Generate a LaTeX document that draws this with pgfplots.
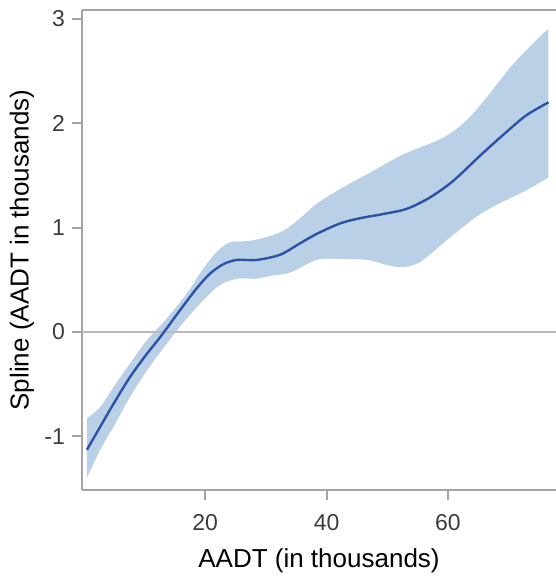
\documentclass[border=0pt]{standalone}
\usepackage{pgfplots}
\pgfplotsset{compat=1.18}
\usepgfplotslibrary{fillbetween}
\usepackage{fontspec}
\setmainfont{Liberation Sans}

\definecolor{bandblue}{RGB}{186,208,231}
\definecolor{lineblue}{RGB}{45,82,168}
\definecolor{axgray}{RGB}{165,165,165}
\definecolor{refgray}{RGB}{185,185,185}
\definecolor{ticktext}{RGB}{60,60,60}

% spline estimate and confidence band
\pgfplotstableread{
x y
0.51 -1.13
2.70 -0.91
4.89 -0.69
7.64 -0.43
10.40 -0.21
12.59 -0.05
15.88 0.21
18.63 0.42
20.82 0.56
23.02 0.65
25.22 0.69
28.52 0.69
32.36 0.74
35.65 0.85
38.40 0.94
42.24 1.04
45.54 1.09
49.37 1.13
53.23 1.18
57.07 1.29
60.91 1.45
65.30 1.69
69.70 1.92
73.00 2.08
76.56 2.20
}\meandata

\pgfplotstableread{
x y
0.51 -0.83
2.70 -0.72
4.89 -0.53
7.64 -0.30
10.40 -0.08
13.69 0.13
16.99 0.37
19.72 0.61
21.93 0.77
24.12 0.86
26.87 0.87
29.60 0.90
32.90 0.97
35.65 1.09
38.40 1.23
42.24 1.37
46.64 1.51
52.57 1.70
59.16 1.86
63.11 2.03
66.41 2.25
70.79 2.57
76.56 2.91
}\upperdata

\pgfplotstableread{
x y
0.51 -1.40
2.70 -1.13
4.89 -0.91
7.64 -0.62
10.40 -0.37
13.69 -0.11
16.99 0.13
20.28 0.34
22.47 0.45
25.22 0.51
28.52 0.51
31.00 0.54
34.00 0.57
38.40 0.69
42.24 0.70
46.64 0.69
50.00 0.64
52.50 0.62
55.42 0.67
59.82 0.88
64.60 1.10
68.06 1.22
73.00 1.36
76.56 1.48
}\lowerdata

\begin{document}
\begin{tikzpicture}
\begin{axis}[
    name=ax,
    scale only axis,
    width=237pt, height=240pt,
    xmin=-0.3, xmax=77.8,
    ymin=-1.516, ymax=3.086,
    axis x line*=box, axis y line*=left,
    axis line style={axgray, line width=1pt, -},
    xtick={20,40,60}, ytick={-1,0,1,2,3},
    tick align=outside, tick pos=left,
    major tick length=5pt,
    tick style={axgray, line width=1pt},
    ticklabel style={font=\fontsize{11.5}{13}\selectfont, text=ticktext},
    xticklabel style={yshift=-3.5pt},
    /pgf/number format/assume math mode=true,
    xlabel={AADT (in thousands)},
    ylabel={Spline (AADT in thousands)},
    label style={font=\fontsize{13}{15}\selectfont},
    xlabel style={at={(axis description cs:0.5,-0.1480)}, anchor=center},
    ylabel style={at={(axis description cs:-0.127,0.5)}, anchor=center},
]
\addplot[name path=up, draw=none, smooth] table {\upperdata};
\addplot[name path=lo, draw=none, smooth] table {\lowerdata};
\addplot[bandblue] fill between[of=up and lo];
\addplot[refgray, line width=1pt] coordinates {(-0.3,0) (77.8,0)};
\addplot[lineblue, line width=1.2pt, smooth] table {\meandata};
\end{axis}
\pgfresetboundingbox
\path ([xshift=-41pt, yshift=-44pt]ax.south west) rectangle ([yshift=5pt]ax.north east);
\end{tikzpicture}
\end{document}
